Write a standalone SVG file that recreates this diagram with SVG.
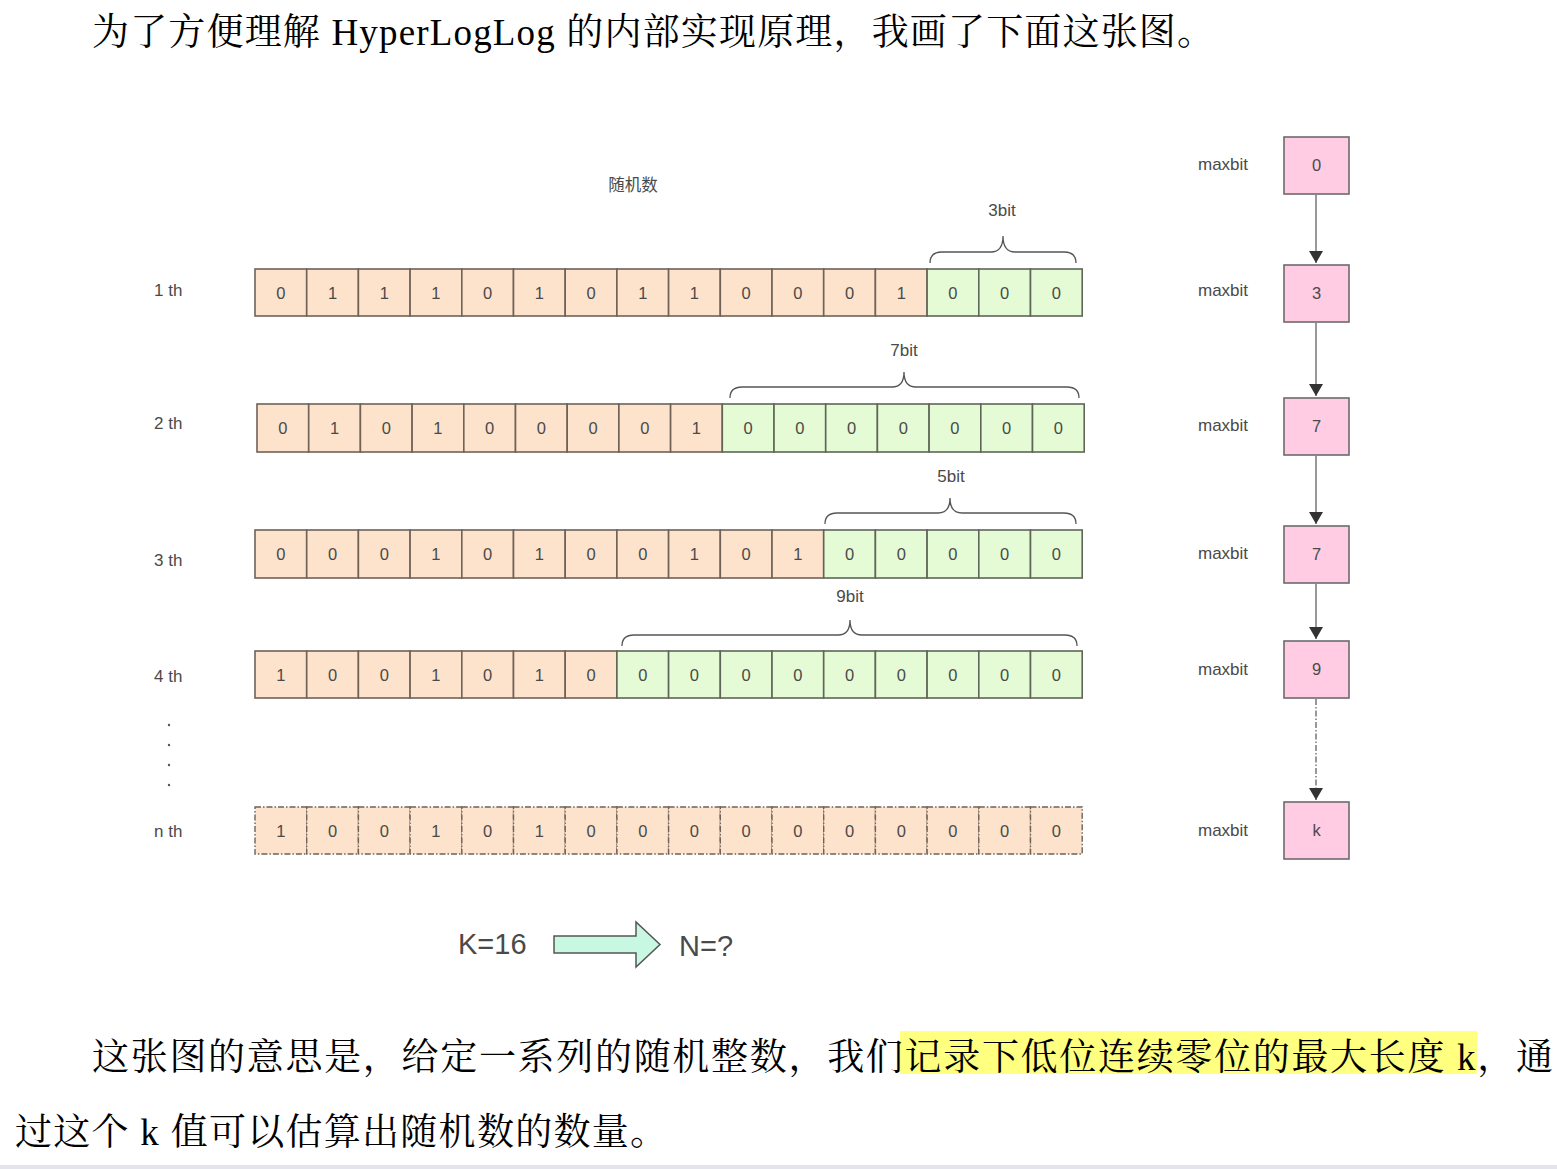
<svg xmlns="http://www.w3.org/2000/svg" width="1557" height="1169" viewBox="0 0 1557 1169">
<defs>
<style>
.o{fill:#fde3cc;stroke:#6e6259;stroke-width:1.6}
.g{fill:#e5fbd5;stroke:#5f6659;stroke-width:1.6}
.od{fill:#fde3cc;stroke:#6e6259;stroke-width:1.4;stroke-dasharray:6 2 1.5 2}
.ct{font-family:"Liberation Sans","Noto Sans CJK SC",sans-serif;font-size:16.5px;fill:#4a4a4a;text-anchor:middle}
.lb{font-family:"Liberation Sans","Noto Sans CJK SC",sans-serif;font-size:17px;fill:#4a4a4a}
.sm{font-size:16.5px}
.big{font-size:29px}
.pk{fill:#ffcce4;stroke:#6b6b6b;stroke-width:1.6}
.br{fill:none;stroke:#555;stroke-width:1.3}
.cn{fill:none;stroke:#777;stroke-width:1.5}
.doc{font-family:"Liberation Serif","Noto Serif CJK SC","Noto Sans CJK SC",serif;fill:#000}
</style>
<marker id="ah" viewBox="0 0 12 16" refX="12" refY="8" markerWidth="12" markerHeight="16" markerUnits="userSpaceOnUse" orient="auto">
<path d="M0,1 L12,8 L0,15 z" fill="#333"/>
</marker>
</defs>
<rect width="1557" height="1169" fill="#fff"/>
<rect x="0" y="1165" width="1557" height="4" fill="#e4e4ec"/>

<text class="doc" x="92" y="45" font-size="37" textLength="1122" lengthAdjust="spacing">为了方便理解  HyperLogLog  的内部实现原理，我画了下面这张图。</text>

<rect x="900" y="1031" width="577" height="43" fill="#ffff80"/>
<text class="doc" x="92" y="1070" font-size="37" textLength="1461" lengthAdjust="spacing">这张图的意思是，给定一系列的随机整数，我们记录下低位连续零位的最大长度 k，通</text>
<text class="doc" x="15" y="1145" font-size="37" textLength="652" lengthAdjust="spacing">过这个 k 值可以估算出随机数的数量。</text>

<text class="lb sm" x="633" y="191" text-anchor="middle">随机数</text>

<g id="labels">
<text class="lb" x="154" y="296">1 th</text>
<text class="lb" x="154" y="429">2 th</text>
<text class="lb" x="154" y="566">3 th</text>
<text class="lb" x="154" y="682">4 th</text>
<text class="lb" x="154" y="837">n th</text>
<circle cx="169" cy="725" r="1.2" fill="#555"/>
<circle cx="169" cy="745" r="1.2" fill="#555"/>
<circle cx="169" cy="765" r="1.2" fill="#555"/>
<circle cx="169" cy="785" r="1.2" fill="#555"/>
</g>

<g id="row1" transform="translate(255,269)">
<rect class="o" x="0" y="0" width="51.7" height="47"/><rect class="o" x="51.7" y="0" width="51.7" height="47"/><rect class="o" x="103.4" y="0" width="51.7" height="47"/><rect class="o" x="155.1" y="0" width="51.7" height="47"/><rect class="o" x="206.8" y="0" width="51.7" height="47"/><rect class="o" x="258.5" y="0" width="51.7" height="47"/><rect class="o" x="310.2" y="0" width="51.7" height="47"/><rect class="o" x="361.9" y="0" width="51.7" height="47"/><rect class="o" x="413.6" y="0" width="51.7" height="47"/><rect class="o" x="465.3" y="0" width="51.7" height="47"/><rect class="o" x="517" y="0" width="51.7" height="47"/><rect class="o" x="568.7" y="0" width="51.7" height="47"/><rect class="o" x="620.4" y="0" width="51.7" height="47"/><rect class="g" x="672.1" y="0" width="51.7" height="47"/><rect class="g" x="723.8" y="0" width="51.7" height="47"/><rect class="g" x="775.5" y="0" width="51.7" height="47"/>
<text class="ct" y="29.5"><tspan x="25.85">0</tspan><tspan x="77.55">1</tspan><tspan x="129.25">1</tspan><tspan x="180.95">1</tspan><tspan x="232.65">0</tspan><tspan x="284.35">1</tspan><tspan x="336.05">0</tspan><tspan x="387.75">1</tspan><tspan x="439.45">1</tspan><tspan x="491.15">0</tspan><tspan x="542.85">0</tspan><tspan x="594.55">0</tspan><tspan x="646.25">1</tspan><tspan x="697.95">0</tspan><tspan x="749.65">0</tspan><tspan x="801.35">0</tspan></text>
</g>

<g id="row2" transform="translate(257,404)">
<rect class="o" x="0" y="0" width="51.7" height="48"/><rect class="o" x="51.7" y="0" width="51.7" height="48"/><rect class="o" x="103.4" y="0" width="51.7" height="48"/><rect class="o" x="155.1" y="0" width="51.7" height="48"/><rect class="o" x="206.8" y="0" width="51.7" height="48"/><rect class="o" x="258.5" y="0" width="51.7" height="48"/><rect class="o" x="310.2" y="0" width="51.7" height="48"/><rect class="o" x="361.9" y="0" width="51.7" height="48"/><rect class="o" x="413.6" y="0" width="51.7" height="48"/><rect class="g" x="465.3" y="0" width="51.7" height="48"/><rect class="g" x="517" y="0" width="51.7" height="48"/><rect class="g" x="568.7" y="0" width="51.7" height="48"/><rect class="g" x="620.4" y="0" width="51.7" height="48"/><rect class="g" x="672.1" y="0" width="51.7" height="48"/><rect class="g" x="723.8" y="0" width="51.7" height="48"/><rect class="g" x="775.5" y="0" width="51.7" height="48"/>
<text class="ct" y="30"><tspan x="25.85">0</tspan><tspan x="77.55">1</tspan><tspan x="129.25">0</tspan><tspan x="180.95">1</tspan><tspan x="232.65">0</tspan><tspan x="284.35">0</tspan><tspan x="336.05">0</tspan><tspan x="387.75">0</tspan><tspan x="439.45">1</tspan><tspan x="491.15">0</tspan><tspan x="542.85">0</tspan><tspan x="594.55">0</tspan><tspan x="646.25">0</tspan><tspan x="697.95">0</tspan><tspan x="749.65">0</tspan><tspan x="801.35">0</tspan></text>
</g>

<g id="row3" transform="translate(255,530)">
<rect class="o" x="0" y="0" width="51.7" height="48"/><rect class="o" x="51.7" y="0" width="51.7" height="48"/><rect class="o" x="103.4" y="0" width="51.7" height="48"/><rect class="o" x="155.1" y="0" width="51.7" height="48"/><rect class="o" x="206.8" y="0" width="51.7" height="48"/><rect class="o" x="258.5" y="0" width="51.7" height="48"/><rect class="o" x="310.2" y="0" width="51.7" height="48"/><rect class="o" x="361.9" y="0" width="51.7" height="48"/><rect class="o" x="413.6" y="0" width="51.7" height="48"/><rect class="o" x="465.3" y="0" width="51.7" height="48"/><rect class="o" x="517" y="0" width="51.7" height="48"/><rect class="g" x="568.7" y="0" width="51.7" height="48"/><rect class="g" x="620.4" y="0" width="51.7" height="48"/><rect class="g" x="672.1" y="0" width="51.7" height="48"/><rect class="g" x="723.8" y="0" width="51.7" height="48"/><rect class="g" x="775.5" y="0" width="51.7" height="48"/>
<text class="ct" y="30"><tspan x="25.85">0</tspan><tspan x="77.55">0</tspan><tspan x="129.25">0</tspan><tspan x="180.95">1</tspan><tspan x="232.65">0</tspan><tspan x="284.35">1</tspan><tspan x="336.05">0</tspan><tspan x="387.75">0</tspan><tspan x="439.45">1</tspan><tspan x="491.15">0</tspan><tspan x="542.85">1</tspan><tspan x="594.55">0</tspan><tspan x="646.25">0</tspan><tspan x="697.95">0</tspan><tspan x="749.65">0</tspan><tspan x="801.35">0</tspan></text>
</g>

<g id="row4" transform="translate(255,651)">
<rect class="o" x="0" y="0" width="51.7" height="47"/><rect class="o" x="51.7" y="0" width="51.7" height="47"/><rect class="o" x="103.4" y="0" width="51.7" height="47"/><rect class="o" x="155.1" y="0" width="51.7" height="47"/><rect class="o" x="206.8" y="0" width="51.7" height="47"/><rect class="o" x="258.5" y="0" width="51.7" height="47"/><rect class="o" x="310.2" y="0" width="51.7" height="47"/><rect class="g" x="361.9" y="0" width="51.7" height="47"/><rect class="g" x="413.6" y="0" width="51.7" height="47"/><rect class="g" x="465.3" y="0" width="51.7" height="47"/><rect class="g" x="517" y="0" width="51.7" height="47"/><rect class="g" x="568.7" y="0" width="51.7" height="47"/><rect class="g" x="620.4" y="0" width="51.7" height="47"/><rect class="g" x="672.1" y="0" width="51.7" height="47"/><rect class="g" x="723.8" y="0" width="51.7" height="47"/><rect class="g" x="775.5" y="0" width="51.7" height="47"/>
<text class="ct" y="29.5"><tspan x="25.85">1</tspan><tspan x="77.55">0</tspan><tspan x="129.25">0</tspan><tspan x="180.95">1</tspan><tspan x="232.65">0</tspan><tspan x="284.35">1</tspan><tspan x="336.05">0</tspan><tspan x="387.75">0</tspan><tspan x="439.45">0</tspan><tspan x="491.15">0</tspan><tspan x="542.85">0</tspan><tspan x="594.55">0</tspan><tspan x="646.25">0</tspan><tspan x="697.95">0</tspan><tspan x="749.65">0</tspan><tspan x="801.35">0</tspan></text>
</g>

<g id="rowN" transform="translate(255,807)">
<rect class="od" x="0" y="0" width="51.7" height="47"/><rect class="od" x="51.7" y="0" width="51.7" height="47"/><rect class="od" x="103.4" y="0" width="51.7" height="47"/><rect class="od" x="155.1" y="0" width="51.7" height="47"/><rect class="od" x="206.8" y="0" width="51.7" height="47"/><rect class="od" x="258.5" y="0" width="51.7" height="47"/><rect class="od" x="310.2" y="0" width="51.7" height="47"/><rect class="od" x="361.9" y="0" width="51.7" height="47"/><rect class="od" x="413.6" y="0" width="51.7" height="47"/><rect class="od" x="465.3" y="0" width="51.7" height="47"/><rect class="od" x="517" y="0" width="51.7" height="47"/><rect class="od" x="568.7" y="0" width="51.7" height="47"/><rect class="od" x="620.4" y="0" width="51.7" height="47"/><rect class="od" x="672.1" y="0" width="51.7" height="47"/><rect class="od" x="723.8" y="0" width="51.7" height="47"/><rect class="od" x="775.5" y="0" width="51.7" height="47"/>
<text class="ct" y="29.5"><tspan x="25.85">1</tspan><tspan x="77.55">0</tspan><tspan x="129.25">0</tspan><tspan x="180.95">1</tspan><tspan x="232.65">0</tspan><tspan x="284.35">1</tspan><tspan x="336.05">0</tspan><tspan x="387.75">0</tspan><tspan x="439.45">0</tspan><tspan x="491.15">0</tspan><tspan x="542.85">0</tspan><tspan x="594.55">0</tspan><tspan x="646.25">0</tspan><tspan x="697.95">0</tspan><tspan x="749.65">0</tspan><tspan x="801.35">0</tspan></text>
</g>

<g id="braces">
<path class="br" d="M930,263 Q930,252 942,252 L991,252 Q1003,252 1003,236 Q1003,252 1015,252 L1064,252 Q1076,252 1076,263"/>
<text class="lb" x="1002" y="216" text-anchor="middle">3bit</text>
<path class="br" d="M730,398 Q730,387 742,387 L892,387 Q904,387 904,372 Q904,387 916,387 L1067,387 Q1079,387 1079,398"/>
<text class="lb" x="904" y="356" text-anchor="middle">7bit</text>
<path class="br" d="M825,524 Q825,513 837,513 L938,513 Q950,513 950,498 Q950,513 962,513 L1064,513 Q1076,513 1076,524"/>
<text class="lb" x="951" y="482" text-anchor="middle">5bit</text>
<path class="br" d="M622,646 Q622,635 634,635 L838,635 Q850,635 850,620 Q850,635 862,635 L1065,635 Q1077,635 1077,646"/>
<text class="lb" x="850" y="602" text-anchor="middle">9bit</text>
</g>

<g id="maxbit-labels">
<text class="lb" x="1198" y="170">maxbit</text>
<text class="lb" x="1198" y="296">maxbit</text>
<text class="lb" x="1198" y="431">maxbit</text>
<text class="lb" x="1198" y="559">maxbit</text>
<text class="lb" x="1198" y="675">maxbit</text>
<text class="lb" x="1198" y="836">maxbit</text>
</g>

<g id="connectors">
<line class="cn" x1="1316" y1="195" x2="1316" y2="263" marker-end="url(#ah)"/>
<line class="cn" x1="1316" y1="323" x2="1316" y2="396" marker-end="url(#ah)"/>
<line class="cn" x1="1316" y1="456" x2="1316" y2="524" marker-end="url(#ah)"/>
<line class="cn" x1="1316" y1="584" x2="1316" y2="639" marker-end="url(#ah)"/>
<line class="cn" x1="1316" y1="699" x2="1316" y2="800" stroke-dasharray="6 2 1.5 2" marker-end="url(#ah)"/>
</g>

<g id="m0"><rect class="pk" x="1284" y="137" width="65" height="57"/><text class="ct" x="1316.5" y="171">0</text></g>
<g id="m1"><rect class="pk" x="1284" y="265" width="65" height="57"/><text class="ct" x="1316.5" y="299">3</text></g>
<g id="m2"><rect class="pk" x="1284" y="398" width="65" height="57"/><text class="ct" x="1316.5" y="432">7</text></g>
<g id="m3"><rect class="pk" x="1284" y="526" width="65" height="57"/><text class="ct" x="1316.5" y="560">7</text></g>
<g id="m4"><rect class="pk" x="1284" y="641" width="65" height="57"/><text class="ct" x="1316.5" y="675">9</text></g>
<g id="m5"><rect class="pk" x="1284" y="802" width="65" height="57"/><text class="ct" x="1316.5" y="836">k</text></g>

<g id="result">
<text class="lb big" x="458" y="954">K=16</text>
<path d="M554,936 L636,936 L636,922 L660,944.5 L636,967 L636,953 L554,953 Z" fill="#c8f7e2" stroke="#555" stroke-width="1.5"/>
<text class="lb big" x="679" y="956">N=?</text>
</g>
</svg>
